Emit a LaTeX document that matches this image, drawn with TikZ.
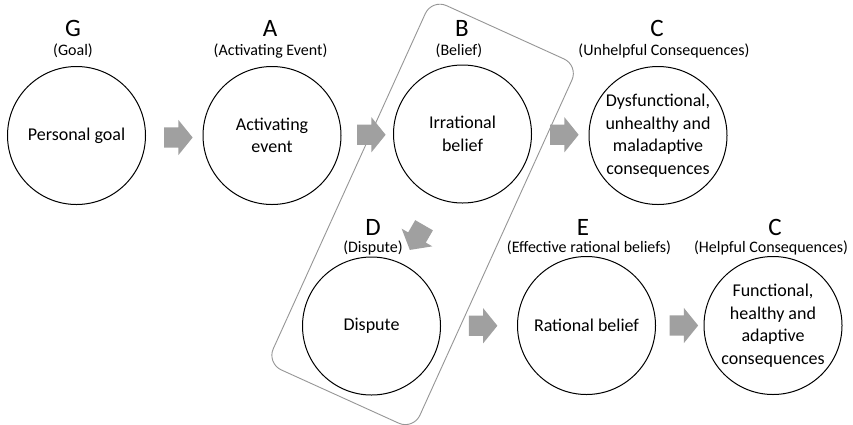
\documentclass[tikz,border=0pt]{standalone}
\usepackage{fontspec}
\setmainfont{Carlito}
\usetikzlibrary{shapes.arrows,calc}

\tikzset{
  stage/.style={circle, draw=black, line width=1pt, minimum size=138pt, inner sep=0pt,
    align=center, font=\fontsize{18}{22.6}\selectfont},
  letter/.style={anchor=base, inner sep=0pt, font=\fontsize{25}{30}\selectfont},
  caption/.style={anchor=base, inner sep=0pt, font=\fontsize{16}{19}\selectfont},
  blockarrow/.style={single arrow, fill=arrowgray, draw=none, inner xsep=0pt, inner ysep=10pt,
    single arrow head extend=7.5pt, single arrow tip angle=102, minimum height=28.5pt},
  groupbox/.style={draw=boxgray, line width=0.9pt, rounded corners=16pt, minimum width=161pt,
    minimum height=400pt, inner sep=0pt}
}
\definecolor{arrowgray}{RGB}{160,160,160}
\definecolor{boxgray}{RGB}{150,150,150}

\begin{document}
\begin{tikzpicture}[x=1pt,y=-1pt]
  \fill[white] (0,0) rectangle (853,424);
  \useasboundingbox (0,0) rectangle (853,424);

  % the B--D group outline
  \node[groupbox, rotate=-24.4] (grp) at (422.6,214.4) {};

  % stages
  \node[stage] (g)  at (76.5,135.5) {Personal goal};
  \node[stage] (a)  at (272,135.5)  {Activating\\event};
  \node[stage] (b)  at (462.5,134)  {Irrational\\belief};
  \node[stage] (c1) at (658,135.5)  {Dysfunctional,\\unhealthy and\\maladaptive\\consequences};
  \node[stage] (d)  at (371.5,326)  {Dispute};
  \node[stage] (e)  at (586.5,325.5) {Rational belief};
  \node[stage] (c2) at (773,325.5)  {Functional,\\healthy and\\adaptive\\consequences};

  % letters and captions
  \node[letter]  (lg)  at (73,36.7)   {G};
  \node[caption] (cg)  at (73,55)     {(Goal)};
  \node[letter]  (la)  at (270,36.7)  {A};
  \node[caption] (ca)  at (270.5,55)  {(Activating Event)};
  \node[letter]  (lb)  at (462,36.7)  {B};
  \node[caption] (cb)  at (459,55)    {(Belief)};
  \node[letter]  (lc1) at (657,36.7)  {C};
  \node[caption] (cc1) at (664,55)    {(Unhelpful Consequences)};
  \node[letter]  (ld)  at (373,235)   {D};
  \node[caption] (cd)  at (373,252)   {(Dispute)};
  \node[letter]  (le)  at (583,235)   {E};
  \node[caption] (ce)  at (589,252)   {(Effective rational beliefs)};
  \node[letter]  (lc2) at (775,235)   {C};
  \node[caption] (cc2) at (771,252)   {(Helpful Consequences)};

  % block arrows between stages
  \node[blockarrow, yshift=-2pt] (ga)  at ($(g.east)!0.5!(a.west)$) {};
  \node[blockarrow] (ab)  at ($(a.east)!0.5!(b.west)$) {};
  \node[blockarrow] (bc)  at ($(b.east)!0.5!(c1.west)$) {};
  \node[blockarrow, rotate=240] (bd) at (419,234) {};
  \node[blockarrow] (de)  at ($(d.east)!0.5!(e.west)$) {};
  \node[blockarrow] (ec)  at ($(e.east)!0.5!(c2.west)$) {};
\end{tikzpicture}
\end{document}
